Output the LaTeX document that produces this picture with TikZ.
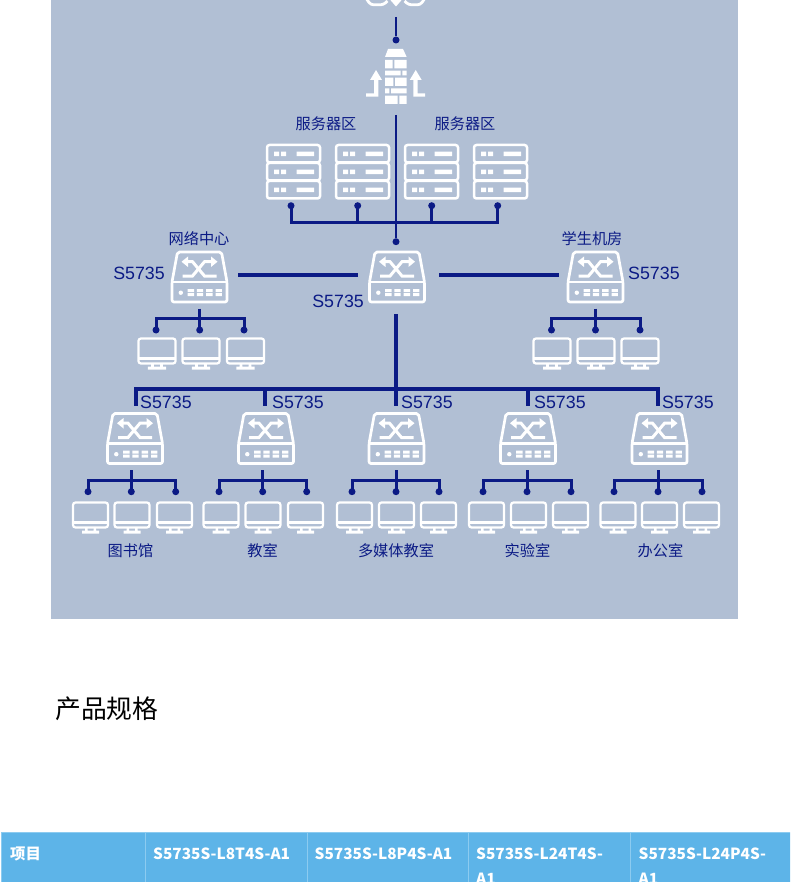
\documentclass[tikz,border=0pt]{standalone}
\usepackage{fontspec}
\setmainfont{Liberation Sans}
\newfontfamily\cjk{Noto Sans CJK SC}
\definecolor{panelblue}{HTML}{B1BFD4}
\definecolor{linknavy}{HTML}{0B1A85}
\definecolor{headblue}{HTML}{5DB4E8}
\definecolor{headline}{HTML}{8CCBF0}
\begin{document}
\begin{tikzpicture}[x=1pt,y=-1pt]
        \tikzset{
        net dot/.style={circle,fill=linknavy,minimum size=7pt,inner sep=0},
        net link/.style={draw=linknavy,line width=3pt},
        net main/.style={draw=linknavy,line width=4pt},
        net name/.style={text=linknavy,font=\cjk\fontsize{15.2}{18}\selectfont},
        net model/.style={text=linknavy,inner sep=0,font=\fontsize{17.8}{20}\selectfont},
        head cell/.style={draw=headline,fill=headblue,line width=1pt,anchor=north west,minimum height=60pt,inner sep=0},
        head text/.style={text=white,anchor=base west,inner sep=0,font=\cjk\bfseries\fontsize{15.4}{18}\selectfont},
        switch/.pic={
            \draw[white,line width=2.7pt,line join=round,rounded corners=2pt] (-22,-25) -- (22,-25) -- (27.5,5) -- (27.5,25) -- (-27.5,25) -- (-27.5,5) -- cycle;
            \draw[white,line width=2.7pt] (-27.5,5) -- (27.5,5);
            \draw[white,line width=3pt] (-17,-1) -- (-7,-1) -- (5,-15.3) -- (13,-15.3);
            \draw[white,line width=3pt] (-13,-15.3) -- (-7,-15.3) -- (5,-1) -- (17,-1);
            \fill[white] (-18,-15.3) -- (-11.5,-20.5) -- (-11.5,-10) -- cycle;
            \fill[white] (18,-15.3) -- (11.5,-20.5) -- (11.5,-10) -- cycle;
            \fill[white] (-18.7,15.7) circle (2.2);
            \fill[white] (-12,12.2) rectangle (-5.3,15.2) (-12,16.2) rectangle (-5.3,19.2);
            \fill[white] (-2.7,12.2) rectangle (3.7,15.2) (-2.7,16.2) rectangle (3.7,19.2);
            \fill[white] (6.7,12.2) rectangle (13,15.2) (6.7,16.2) rectangle (13,19.2);
            \fill[white] (16,12.2) rectangle (22.3,15.2) (16,16.2) rectangle (22.3,19.2);
        },
        server/.pic={
            \draw[white,line width=2.5pt,rounded corners=2.5pt] (0,0) rectangle (53,17.5);
            \draw[white,line width=2.5pt,rounded corners=2.5pt] (0,18) rectangle (53,35.5);
            \draw[white,line width=2.5pt,rounded corners=2.5pt] (0,36) rectangle (53,53.5);
            \fill[white] (7,6.7) rectangle (12,11.2) (14,6.7) rectangle (19,11.2) (29.5,6.7) rectangle (47,11.2);
            \fill[white] (7,24.7) rectangle (12,29.2) (14,24.7) rectangle (19,29.2) (29.5,24.7) rectangle (47,29.2);
            \fill[white] (7,42.7) rectangle (12,47.2) (14,42.7) rectangle (19,47.2) (29.5,42.7) rectangle (47,47.2);
        },
        monitor/.pic={
            \draw[white,line width=2.2pt,rounded corners=2.5pt] (-17.5,-12.5) rectangle (17.5,12.5);
            \draw[white,line width=2.2pt] (-17.5,7.5) -- (17.5,7.5);
            \fill[white] (-5.5,12.5) rectangle (-3,16) (3,12.5) rectangle (5.5,16) (-8.5,15.5) rectangle (8.5,18.5);
        },
        firewall/.pic={
            \fill[white] (-8,49) -- (7,49) -- (10.7,57) -- (-11,57) -- cycle;
            \fill[white] (-11,60) rectangle (-3.3,68.3) (-1.7,60) rectangle (10.7,68.3);
            \fill[white] (-11,70.7) rectangle (4.7,75.3) (6.3,70.7) rectangle (10.7,75.3);
            \fill[white] (-11,77.7) rectangle (-2.7,86) (-1,77.7) rectangle (10.7,86);
            \fill[white] (-11,88.3) rectangle (-6.7,93.3) (-5,88.3) rectangle (10.7,93.3);
            \fill[white] (-11,95.7) rectangle (1.7,104) (3.3,95.7) rectangle (10.7,104);
            \fill[white] (-20,70) -- (-14,80) -- (-17.7,80) -- (-17.7,96.7) -- (-30,96.7) -- (-30,93.5) -- (-22,93.5) -- (-22,80) -- (-26,80) -- cycle;
            \fill[white] (19.7,70) -- (25.7,80) -- (21.7,80) -- (21.7,93.5) -- (29,93.5) -- (29,96.7) -- (17.3,96.7) -- (17.3,80) -- (13.7,80) -- cycle;
        },
        edge device/.pic={
            \draw[white,line width=2.8pt,rounded corners=3pt] (-29.5,-2) -- (-25,4.8) -- (-12,4.8) -- (-8,1);
            \draw[white,line width=2.8pt,rounded corners=3pt] (29.5,-2) -- (25,4.8) -- (13,4.8) -- (9,1);
            \fill[white] (-6,-1) -- (7,-1) -- (0.5,6.5) -- cycle;
        }
        }
        \clip (0,0) rectangle (790,882);
        \fill[panelblue] (51,-1) rectangle (738,619);

        \pic (edgedev) at (395.5,0) {edge device};
        \pic (fw) at (396,0) {firewall};
        \pic (srv1) at (267,145) {server};
        \pic (srv2) at (336,145) {server};
        \pic (srv3) at (405,145) {server};
        \pic (srv4) at (474,145) {server};
        \pic (swcore) at (397,277) {switch};
        \pic (swnet) at (199.5,277) {switch};
        \pic (swlab) at (595.5,277) {switch};
        \pic (sw1) at (135,438.5) {switch};
        \pic (sw2) at (266,438.5) {switch};
        \pic (sw3) at (396.5,438.5) {switch};
        \pic (sw4) at (528,438.5) {switch};
        \pic (sw5) at (659.5,438.5) {switch};

        \pic[xscale=1.06] (mn1) at (157,351) {monitor};
        \pic[xscale=1.06] (mn2) at (201,351) {monitor};
        \pic[xscale=1.06] (mn3) at (245.5,351) {monitor};
        \pic[xscale=1.06] (ml1) at (552,351) {monitor};
        \pic[xscale=1.06] (ml2) at (596,351) {monitor};
        \pic[xscale=1.06] (ml3) at (640,351) {monitor};
        \pic (m11) at (90.5,515) {monitor};
        \pic (m12) at (132,515) {monitor};
        \pic (m13) at (174.5,515) {monitor};
        \pic (m21) at (221,515) {monitor};
        \pic (m22) at (263,515) {monitor};
        \pic (m23) at (305.5,515) {monitor};
        \pic (m31) at (354.5,515) {monitor};
        \pic (m32) at (396.5,515) {monitor};
        \pic (m33) at (438.5,515) {monitor};
        \pic (m41) at (486.5,515) {monitor};
        \pic (m42) at (528.5,515) {monitor};
        \pic (m43) at (570.5,515) {monitor};
        \pic (m51) at (618,515) {monitor};
        \pic (m52) at (659.5,515) {monitor};
        \pic (m53) at (701.5,515) {monitor};

        \node[net dot] (fwdot) at (396,40) {};
        \coordinate (fwtop) at (396,17);
        \coordinate (corebase) at (396,115);
        \node[net dot] (coredot) at (396,241.7) {};
        \coordinate (srvjoin) at (396,222.7);
        \node[net dot] (sd1) at (291,205.7) {};
        \node[net dot] (sd2) at (357.7,205.7) {};
        \node[net dot] (sd3) at (431.7,205.7) {};
        \node[net dot] (sd4) at (497.7,205.7) {};
        \coordinate (lnetl) at (238,275);
        \coordinate (lnetr) at (358,275);
        \coordinate (llabl) at (439,275);
        \coordinate (llabr) at (559,275);
        \coordinate (coredown) at (396,314);
        \coordinate (busjoin) at (396,388.5);
        \coordinate (bus1) at (135.7,388.5);
        \coordinate (bus2) at (264.5,388.5);
        \coordinate (bus4) at (528,388.5);
        \coordinate (bus5) at (658,388.5);
        \coordinate (drop1) at (135.7,405.7);
        \coordinate (drop2) at (264.5,405.7);
        \coordinate (drop3) at (396,405.7);
        \coordinate (drop4) at (528,405.7);
        \coordinate (drop5) at (658,405.7);

        \coordinate (ntop) at (199.7,308.7);
        \coordinate (nhub) at (199.7,318.7);
        \node[net dot] (nd1) at (156,330) {};
        \node[net dot] (nd2) at (199.7,330) {};
        \node[net dot] (nd3) at (244,330) {};
        \coordinate (ltop) at (595.5,308.7);
        \coordinate (lhub) at (595.5,318.7);
        \node[net dot] (ld1) at (551.5,330) {};
        \node[net dot] (ld2) at (595.5,330) {};
        \node[net dot] (ld3) at (640,330) {};

        \coordinate (top1) at (131.3,470);
        \coordinate (hub1) at (131.3,480);
        \node[net dot] (d11) at (88,491.7) {};
        \node[net dot] (d12) at (131.3,491.7) {};
        \node[net dot] (d13) at (175.7,491.7) {};
        \coordinate (top2) at (262.7,470);
        \coordinate (hub2) at (262.7,480);
        \node[net dot] (d21) at (219,491.7) {};
        \node[net dot] (d22) at (262.7,491.7) {};
        \node[net dot] (d23) at (306.7,491.7) {};
        \coordinate (top3) at (396,470);
        \coordinate (hub3) at (396,480);
        \node[net dot] (d31) at (352,491.7) {};
        \node[net dot] (d32) at (396,491.7) {};
        \node[net dot] (d33) at (439,491.7) {};
        \coordinate (top4) at (527,470);
        \coordinate (hub4) at (527,480);
        \node[net dot] (d41) at (483,491.7) {};
        \node[net dot] (d42) at (527,491.7) {};
        \node[net dot] (d43) at (571,491.7) {};
        \coordinate (top5) at (658,470);
        \coordinate (hub5) at (658,480);
        \node[net dot] (d51) at (614,491.7) {};
        \node[net dot] (d52) at (658,491.7) {};
        \node[net dot] (d53) at (702,491.7) {};

        \path[draw=linknavy,line width=2.2pt]
        (fwtop) edge (fwdot)
        (corebase) edge (coredot)
        ;
        \path[net link]
        (sd1.center) edge (sd1.center |- srvjoin)
        (sd2.center) edge (sd2.center |- srvjoin)
        (sd3.center) edge (sd3.center |- srvjoin)
        (sd4.center) edge (sd4.center |- srvjoin)
        (sd1.center |- srvjoin) edge[line cap=rect] (sd4.center |- srvjoin)
        (ntop) edge (nd2.center)
        (nd1.center) |- (nhub) -| (nd3.center)
        (ltop) edge (ld2.center)
        (ld1.center) |- (lhub) -| (ld3.center)
        (top1) edge (d12.center)
        (d11.center) |- (hub1) -| (d13.center)
        (top2) edge (d22.center)
        (d21.center) |- (hub2) -| (d23.center)
        (top3) edge (d32.center)
        (d31.center) |- (hub3) -| (d33.center)
        (top4) edge (d42.center)
        (d41.center) |- (hub4) -| (d43.center)
        (top5) edge (d52.center)
        (d51.center) |- (hub5) -| (d53.center)
        ;
        \path[net main]
        (lnetl) edge (lnetr)
        (llabl) edge (llabr)
        (coredown) edge (busjoin)
        (busjoin) edge (drop3)
        (drop1) -- (bus1) -- (bus5) -- (drop5)
        (bus2) edge (drop2)
        (bus4) edge (drop4)
        ;

        \node[net name] (zone1) at (326,123.5) {服务器区};
        \node[net name] (zone2) at (465,123.5) {服务器区};
        \node[net name] (netcenter) at (199,238.5) {网络中心};
        \node[net name] (stulab) at (592,238.5) {学生机房};
        \node[net name] (library) at (130.5,550.5) {图书馆};
        \node[net name] (classroom) at (262.5,550.5) {教室};
        \node[net name] (mediaroom) at (396,550.5) {多媒体教室};
        \node[net name] (labroom) at (527.5,550.5) {实验室};
        \node[net name] (office) at (660.5,550.5) {办公室};

        \node[net model,anchor=east] (mnet) at (165,273) {S5735};
        \node[net model,anchor=west] (mlab) at (628,273) {S5735};
        \node[net model,anchor=east] (mcore) at (364,301) {S5735};
        \node[net model,anchor=west] (m1) at (140,402) {S5735};
        \node[net model,anchor=west] (m2) at (272,402) {S5735};
        \node[net model,anchor=west] (m3) at (401,402) {S5735};
        \node[net model,anchor=west] (m4) at (534,402) {S5735};
        \node[net model,anchor=west] (m5) at (662,402) {S5735};

        \node[anchor=west,inner sep=0,font=\cjk\fontsize{25.8}{30}\selectfont] (spectitle) at (55,708.5) {产品规格};

        \node[head cell,minimum width=144pt] (cell0) at (1,832) {};
        \node[head cell,minimum width=161.5pt] (cell1) at (145,832) {};
        \node[head cell,minimum width=161.5pt] (cell2) at (306.5,832) {};
        \node[head cell,minimum width=162pt] (cell3) at (468,832) {};
        \node[head cell,minimum width=170pt] (cell4) at (630,832) {};
        \node[head text] (txt0) at (10,859) {项目};
        \node[head text] (txt1) at (153,859) {S5735S-L8T4S-A1};
        \node[head text] (txt2) at (314.5,859) {S5735S-L8P4S-A1};
        \node[head text] (txt3) at (476,859) {S5735S-L24T4S-};
        \node[head text] (txt3b) at (476,884.5) {A1};
        \node[head text] (txt4) at (638.5,859) {S5735S-L24P4S-};
        \node[head text] (txt4b) at (638.5,884.5) {A1};
    \end{tikzpicture}
\end{document}
